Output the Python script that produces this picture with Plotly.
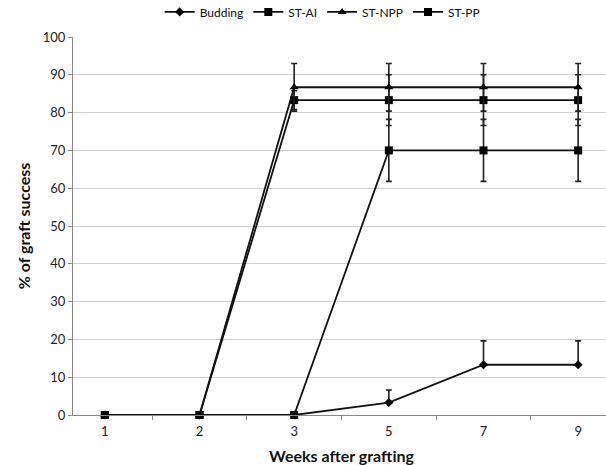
import plotly.graph_objects as go

weeks = ["1", "2", "3", "5", "7", "9"]
budding = [0, 0, 0, 3.3, 13.3, 13.3]
budding_err = [0, 0, 0, 3.3, 6.3, 6.3]
st_ai = [0, 0, 83.3, 83.3, 83.3, 83.3]
st_ai_err = [0, 0, 2.5, 6.7, 6.7, 6.7]
st_npp = [0, 0, 86.7, 86.7, 86.7, 86.7]
st_npp_err = [0, 0, 6.3, 6.3, 6.3, 6.3]
st_pp = [0, 0, 0, 70, 70, 70]
st_pp_err = [0, 0, 0, 8.2, 8.2, 8.2]

FONT = "Lato"
fig = go.Figure()

def add(name, y, err, symbol, size, symmetric=True, minus=None):
    ey = dict(type="data", array=err, visible=True, color="#222", thickness=1.6, width=3,
              symmetric=symmetric)
    if not symmetric:
        ey["arrayminus"] = minus
    fig.add_trace(go.Scatter(
        x=weeks, y=y, name=name, mode="lines+markers", cliponaxis=False,
        line=dict(color="#111", width=1.8),
        marker=dict(symbol=symbol, size=size, color="#000"),
        error_y=ey,
    ))

add("Budding", budding, budding_err, "diamond", 7, symmetric=False, minus=[0]*6)
add("ST-AI", st_ai, st_ai_err, "square", 8)
add("ST-NPP", st_npp, st_npp_err, "triangle-up", 8)
add("ST-PP", st_pp, st_pp_err, "square", 8)

fig.update_layout(
    width=610, height=465,
    margin=dict(l=73, r=0, t=37, b=50, autoexpand=False),
    paper_bgcolor="white", plot_bgcolor="white",
    font=dict(family=FONT, size=13, color="#222"),
    legend=dict(orientation="h", x=0.465, xanchor="center", y=1.028, yanchor="bottom",
                font=dict(size=12, family=FONT, color="#111"), itemwidth=30,
                bgcolor="rgba(0,0,0,0)"),
    showlegend=True,
)
fig.update_xaxes(
    type="category", categoryorder="array", categoryarray=weeks,
    tickson="boundaries", ticks="outside", ticklen=4, tickcolor="#888",
    showline=True, linecolor="#888", linewidth=1,
    showgrid=False, zeroline=False, ticklabelstandoff=4,
    tickfont=dict(size=13, family=FONT, color="#222"),
    title=dict(text="<b>Weeks after grafting</b>", font=dict(size=16, family=FONT, color="#111"), standoff=14),
)
fig.update_yaxes(
    range=[0, 100], dtick=10, ticks="outside", ticklen=4, tickcolor="#888",
    showline=True, linecolor="#888", linewidth=1,
    showgrid=True, gridcolor="#d0d0d0", gridwidth=1, zeroline=False,
    tickfont=dict(size=13, family=FONT, color="#222"),
    title=dict(text="<b>% of graft success</b>", font=dict(size=16, family=FONT, color="#111"), standoff=8),
)

fig.write_html("out.html", config={"displayModeBar": False},
               post_script="document.body.style.margin='0';document.body.style.overflow='hidden';document.documentElement.style.overflow='hidden';")
